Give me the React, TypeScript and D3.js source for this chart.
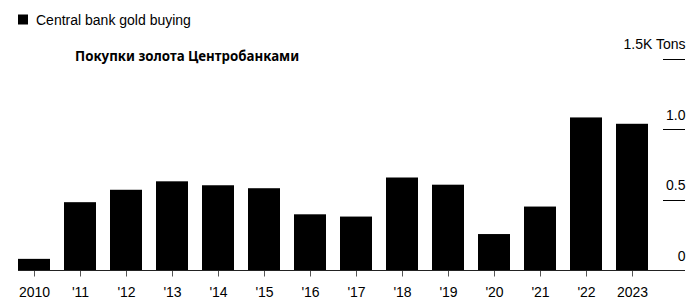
import React from "react";
import * as d3 from "d3";

const years = ["2010", "'11", "'12", "'13", "'14", "'15", "'16", "'17", "'18", "'19", "'20", "'21", "'22", "2023"];
const tons = [79, 481, 569, 629, 601, 580, 395, 379, 656, 605, 255, 450, 1082, 1037];
const yTicks = [0, 500, 1000, 1500];
const yTickLabels = ["0", "0.5", "1.0", "1.5K Tons"];
const legendLabel = "Central bank gold buying";
const subtitle = "Покупки золота Центробанками";

const W = 700;
const H = 306;

export default function App() {
  const x = d3
    .scaleBand<string>()
    .domain(years)
    .range([18, 648])
    .paddingInner(14 / 46)
    .paddingOuter(0);
  const y = d3.scaleLinear().domain([0, 1500]).range([270, 58.5]);
  const font = "'Liberation Sans', Arial, Helvetica, sans-serif";

  return (
    <svg
      width={W}
      height={H}
      style={{ position: "absolute", left: 0, top: 0, background: "#fff" }}
    >
      {/* legend */}
      <rect x={18} y={14.5} width={10} height={10} fill="#000" />
      <text x={36} y={24.5} fontFamily={font} fontSize={14} fill="#000">
        {legendLabel}
      </text>
      {/* subtitle */}
      <text
        x={75}
        y={60.5}
        fontFamily="'Noto Sans', 'Open Sans', sans-serif"
        fontWeight="bold"
        fontSize={13.3}
        fill="#000"
      >
        {subtitle}
      </text>

      {/* bars */}
      {years.map((yr, i) => (
        <rect
          key={yr}
          x={x(yr)}
          y={y(tons[i])}
          width={x.bandwidth()}
          height={y(0) - y(tons[i])}
          fill="#000"
        />
      ))}

      {/* y gridline stubs and labels */}
      {yTicks.map((t) =>
        t === 0 ? null : (
          <line
            key={t}
            x1={663}
            x2={685}
            y1={Math.round(y(t)) + 0.5}
            y2={Math.round(y(t)) + 0.5}
            stroke="#000"
            strokeWidth={1}
          />
        )
      )}
      {yTicks.map((t, i) => (
        <text
          key={"l" + t}
          x={685.5}
          y={y(t) - 9.5}
          textAnchor="end"
          fontFamily={font}
          fontSize={14}
          fill="#000"
        >
          {yTickLabels[i]}
        </text>
      ))}

      {/* baseline */}
      <line x1={18} x2={685} y1={270.5} y2={270.5} stroke="#222" strokeWidth={1} />

      {/* x ticks */}
      {years.map((yr) => {
        const cx = Math.round((x(yr) as number) + x.bandwidth() / 2) + 0.5;
        return (
          <g key={"t" + yr}>
            <line x1={cx} x2={cx} y1={271} y2={276.5} stroke="#555" strokeWidth={1} />
            <text
              x={cx}
              y={297}
              textAnchor="middle"
              fontFamily={font}
              fontSize={14}
              fill="#000"
            >
              {yr}
            </text>
          </g>
        );
      })}
    </svg>
  );
}
